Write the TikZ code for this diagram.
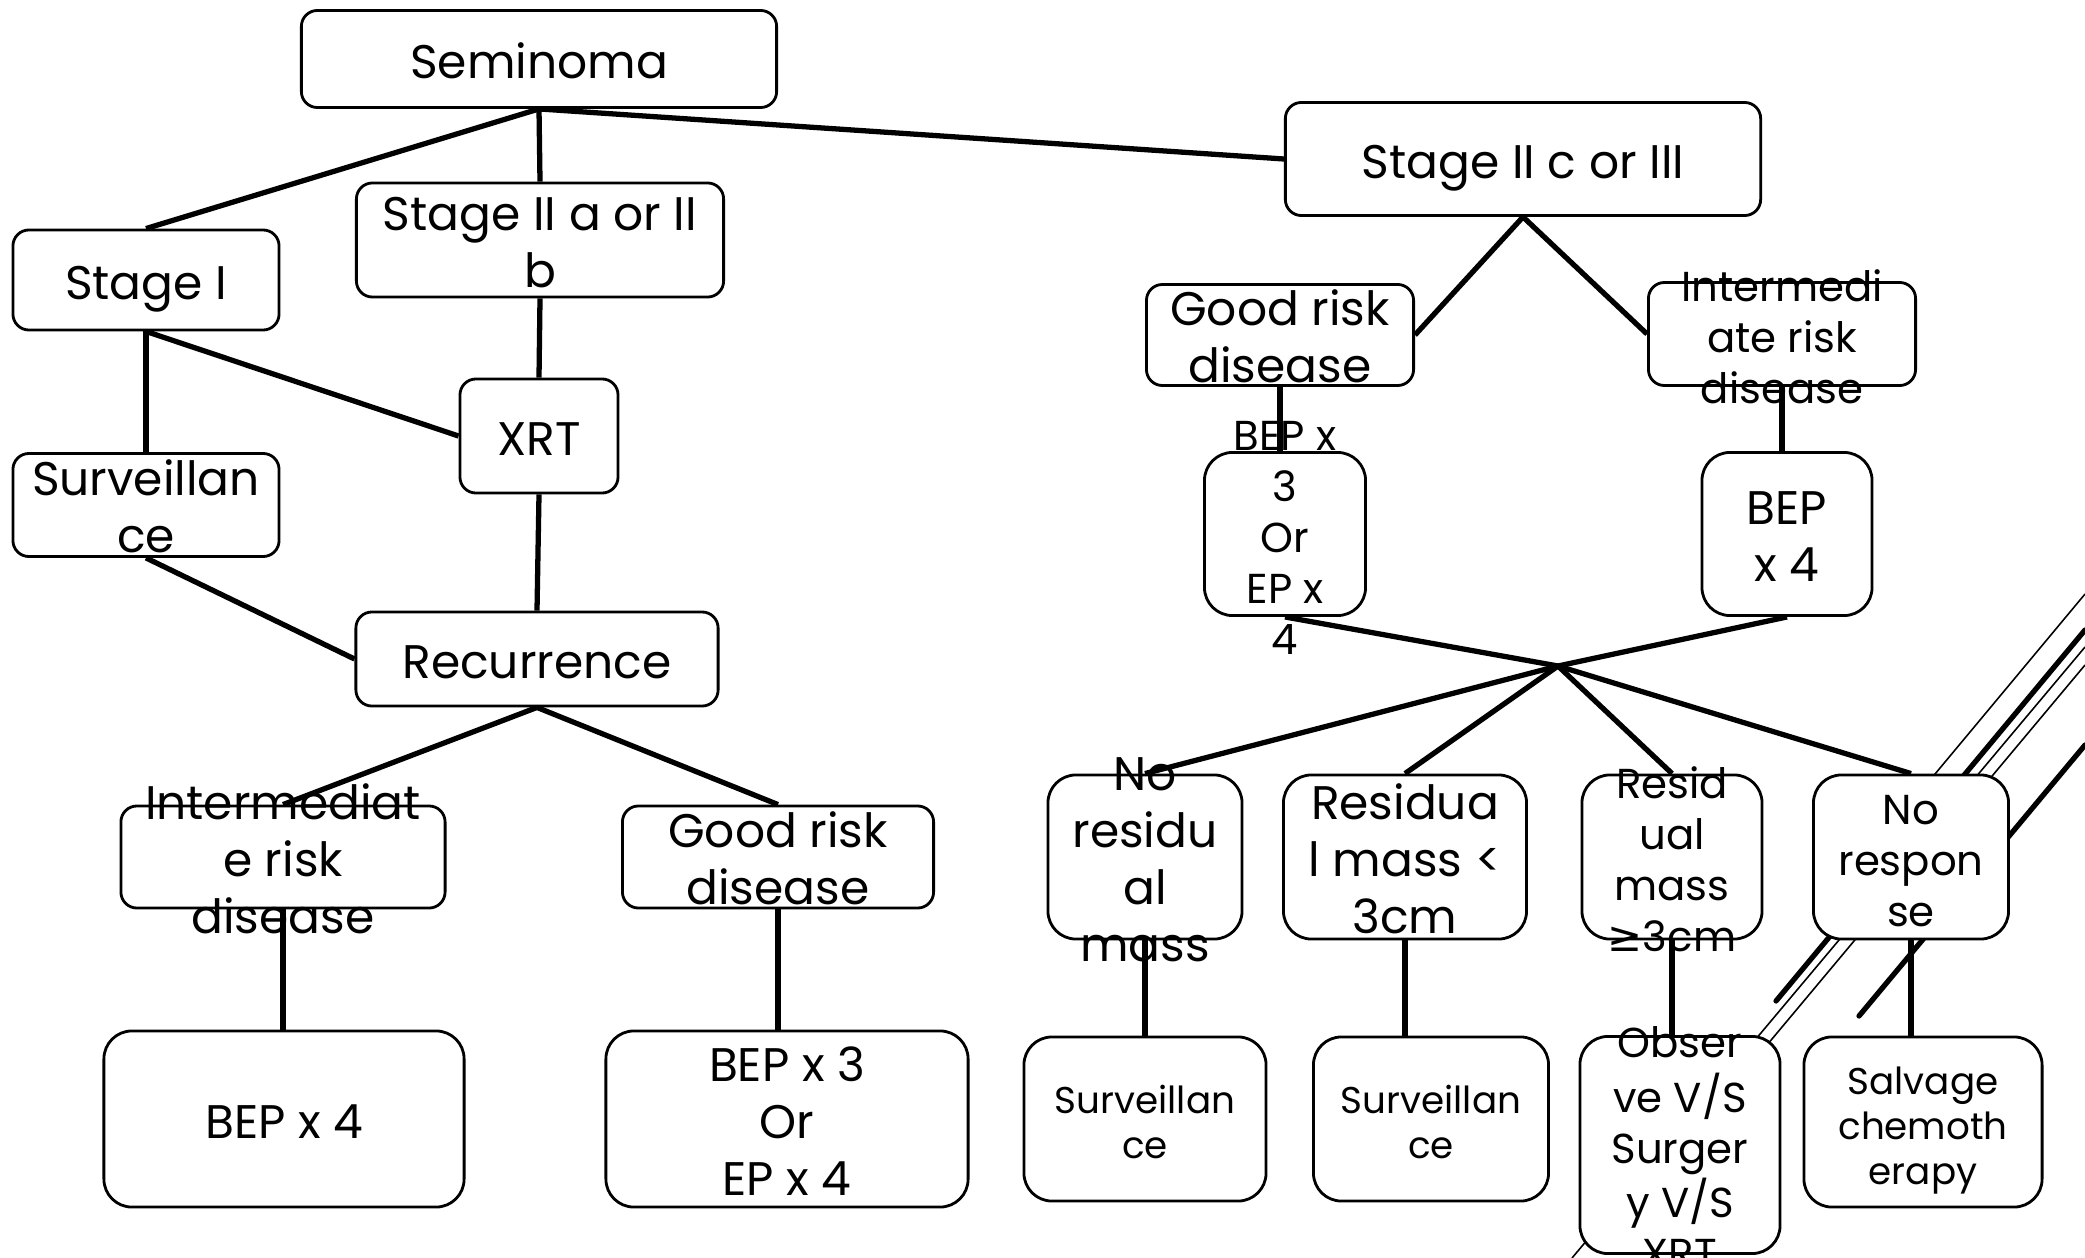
\documentclass[tikz,border=0pt]{standalone}
\usepackage{fontspec}
\setmainfont{Poppins}
\newfontfamily\symfont{DejaVu Sans}
\tikzset{
  box/.style={draw, line width=0.8pt, rounded corners=0.16cm, fill=white, inner sep=0pt},
  tall/.style={rounded corners=0.28cm},
  big/.style={font=\fontsize{13.4}{16.2}\selectfont},
  mid/.style={font=\fontsize{11.9}{14.5}\selectfont},
  small/.style={font=\fontsize{10.6}{12.8}\selectfont},
  link/.style={line width=1.5pt},
  thinline/.style={line width=0.45pt},
  thickline/.style={line width=1.5pt, line cap=round}
}
\newcommand{\fitbox}[1]{\vbox to 0pt{\vss\hbox{\begin{tabular}{@{}c@{}}#1\end{tabular}}\vss\kern-0.16cm}}
\begin{document}
\begin{tikzpicture}[x=0.01cm, y=-0.01cm]
\useasboundingbox (0,0) rectangle (2085,1258);

% slide decoration
\draw [thinline] (2085,594) -- (1900,816);
\draw [thickline] (2085,630) -- (1776,1001);
\draw [thinline] (2085,647) -- (1572,1258);
\draw [thinline] (2085,665) -- (1700,1125);
\draw [thickline] (2085,745) -- (1859,1016);

% left branch
\node [box, big, minimum width=4.75cm, minimum height=0.97cm] (sem) at (539,59) {\fitbox{Seminoma}};
\node [box, big, minimum width=2.66cm, minimum height=1.00cm] (st1) at (146,280) {\fitbox{Stage I}};
\node [box, big, minimum width=3.67cm, minimum height=1.14cm] (st2) at (540,240) {\fitbox{Stage II a or II\\b}};
\node [box, big, minimum width=1.58cm, minimum height=1.14cm] (xrt) at (539,436) {\fitbox{XRT}};
\node [box, big, minimum width=2.66cm, minimum height=1.03cm] (survL) at (146,505) {\fitbox{Surveillan\\ce}};
\node [box, big, minimum width=3.62cm, minimum height=0.94cm] (rec) at (537,659) {\fitbox{Recurrence}};
\node [box, big, minimum width=3.24cm, minimum height=1.02cm] (intL) at (283,857) {\fitbox{Intermediat\\e risk\\disease}};
\node [box, big, minimum width=3.11cm, minimum height=1.02cm] (goodL) at (778,857) {\fitbox{Good risk\\disease}};
\node [box, tall, big, minimum width=3.60cm, minimum height=1.76cm] (bep4L) at (284,1119) {\fitbox{BEP x 4}};
\node [box, tall, big, minimum width=3.62cm, minimum height=1.76cm] (bep3L) at (787,1119) {\fitbox{BEP x 3\\Or\\EP x 4}};

% right branch
\node [box, big, minimum width=4.75cm, minimum height=1.13cm] (st3) at (1523,159) {\fitbox{Stage II c or III}};
\node [box, big, minimum width=2.67cm, minimum height=1.01cm] (goodR) at (1280,335) {\fitbox{Good risk\\disease}};
\node [box, mid, minimum width=2.67cm, minimum height=1.03cm] (intR) at (1782,334) {\fitbox{Intermedi\\ate risk\\disease}};
\node [box, tall, mid, minimum width=1.61cm, minimum height=1.63cm] (bep3R) at (1285,534) {\fitbox{BEP x\\3\\Or\\EP x\\4}};
\node [box, tall, big, minimum width=1.70cm, minimum height=1.63cm] (bep4R) at (1787,534) {\fitbox{BEP\\x 4}};
\coordinate (hub) at (1558,666);

\node [box, tall, big, minimum width=1.94cm, minimum height=1.64cm] (nores) at (1145,857) {\fitbox{No\\residu\\al\\mass}};
\node [box, tall, big, minimum width=2.43cm, minimum height=1.64cm] (less3) at (1405,857) {\fitbox{Residua\\l mass <\\3cm}};
\node [box, tall, mid, minimum width=1.80cm, minimum height=1.64cm] (more3) at (1672,857) {\fitbox{Resid\\ual\\mass\\{\symfont ≥}3cm}};
\node [box, tall, mid, minimum width=1.95cm, minimum height=1.64cm] (noresp) at (1911,857) {\fitbox{No\\respon\\se}};

\node [box, tall, small, minimum width=2.42cm, minimum height=1.64cm] (survR1) at (1145,1119) {\fitbox{Surveillan\\ce}};
\node [box, tall, small, minimum width=2.35cm, minimum height=1.64cm] (survR2) at (1431,1119) {\fitbox{Surveillan\\ce}};
\node [box, tall, mid, minimum width=2.00cm, minimum height=2.17cm] (obs) at (1680,1145) {\fitbox{Obser\\ve V/S\\Surger\\y V/S\\XRT}};
\node [box, tall, small, minimum width=2.38cm, minimum height=1.70cm] (salv) at (1923,1122) {\fitbox{Salvage\\chemoth\\erapy}};

% connectors
\draw [link] (sem.south) -- (st1.north);
\draw [link] (sem.south) -- (st2.north);
\draw [link] (sem.south) -- (st3.west);
\draw [link] (st1.south) -- (survL.north);
\draw [link] (st1.south) -- (xrt.west);
\draw [link] (st2.south) -- (xrt.north);
\draw [link] (xrt.south) -- (rec.north);
\draw [link] (survL.south) -- (rec.west);
\draw [link] (rec.south) -- (intL.north);
\draw [link] (rec.south) -- (goodL.north);
\draw [link] (intL.south) -- (intL.south |- bep4L.north);
\draw [link] (goodL.south) -- (goodL.south |- bep3L.north);

\draw [link] (st3.south) -- (goodR.east);
\draw [link] (st3.south) -- (intR.west);
\draw [link] (goodR.south) -- (goodR.south |- bep3R.north);
\draw [link] (intR.south) -- (intR.south |- bep4R.north);
\draw [link] (bep3R.south) -- (hub);
\draw [link] (bep4R.south) -- (hub);
\draw [link] (hub) -- (nores.north);
\draw [link] (hub) -- (less3.north);
\draw [link] (hub) -- (more3.north);
\draw [link] (hub) -- (noresp.north);
\draw [link] (nores.south) -- (nores.south |- survR1.north);
\draw [link] (less3.south) -- (less3.south |- survR2.north);
\draw [link] (more3.south) -- (more3.south |- obs.north);
\draw [link] (noresp.south) -- (noresp.south |- salv.north);
\end{tikzpicture}
\end{document}
